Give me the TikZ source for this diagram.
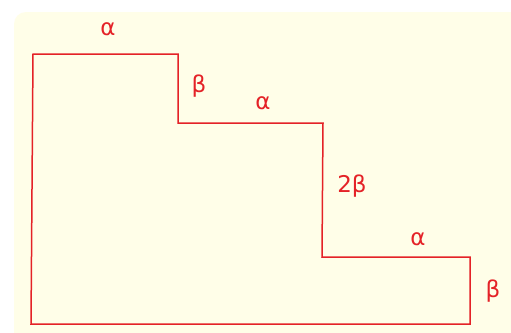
\documentclass[tikz,border=0pt]{standalone}
\usepackage{fontspec}
\setmainfont{DejaVu Sans}
\definecolor{bgcream}{HTML}{FFFEE8}
\definecolor{linered}{HTML}{E42227}
\tikzset{
  lbl/.style={text=linered, font=\fontsize{23}{23}\selectfont, inner sep=0pt},
  outline/.style={draw=linered, line width=1.5pt, line join=miter}
}
\begin{document}
\begin{tikzpicture}[x=1pt,y=-1pt]
\useasboundingbox (0,0) rectangle (511,332);
\fill[white] (0,0) rectangle (511,332);
\fill[bgcream, rounded corners=12pt] (14,12) rectangle (530,345);
\coordinate (p1) at (33,54);
\coordinate (p2) at (178,54);
\coordinate (p3) at (178,123);
\coordinate (p4) at (323,123);
\coordinate (p5) at (322,257);
\coordinate (p6) at (470,257);
\coordinate (p7) at (470,324);
\coordinate (p8) at (31,324);
\draw[outline] (p1) -- (p2) -- (p3) -- (p4) -- (p5) -- (p6) -- (p7) -- (p8) -- cycle;
\node[lbl] (a1) at (108,29) {α};
\node[lbl] (b1) at (199,86) {β};
\node[lbl] (a2) at (263,103) {α};
\node[lbl] (b2) at (352,186) {2β};
\node[lbl] (a3) at (418,239) {α};
\node[lbl] (b3) at (493,291) {β};
\end{tikzpicture}
\end{document}
